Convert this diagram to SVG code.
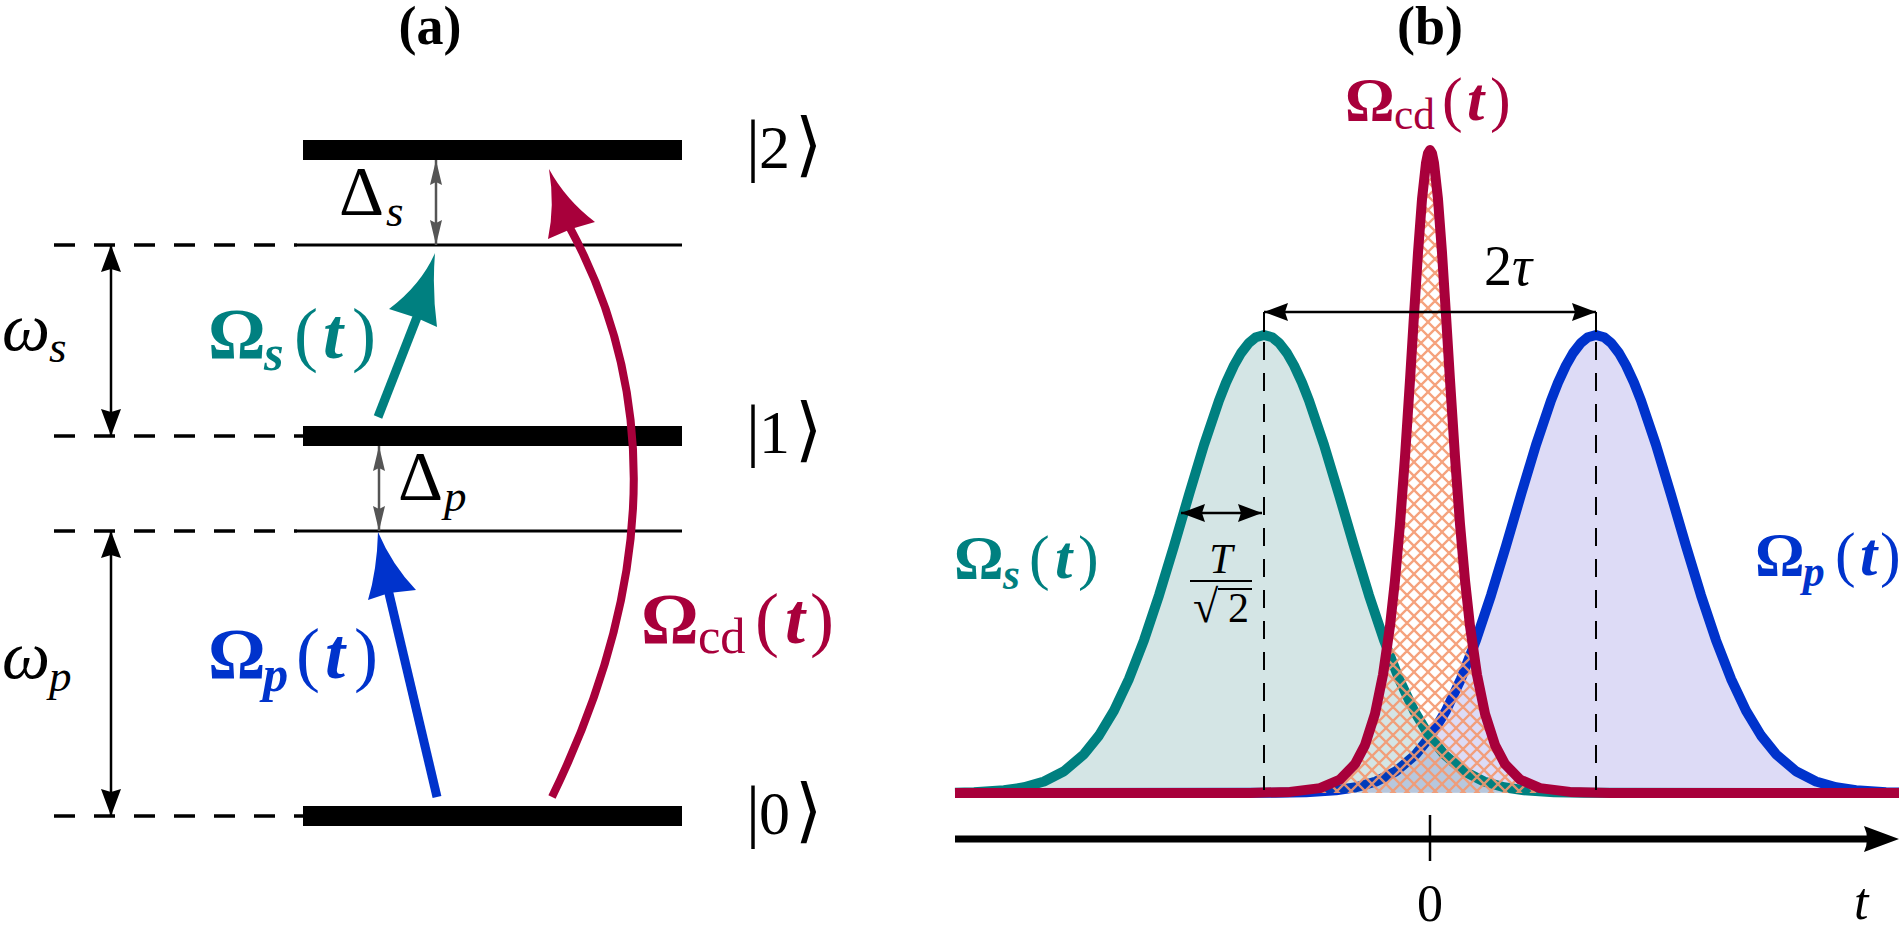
<svg xmlns="http://www.w3.org/2000/svg" width="1899" height="927" viewBox="0 0 1899 927">
<defs>
<style>
text{font-family:"Liberation Serif","DejaVu Serif",serif;fill:#000}
.lvl{fill:#000}
.thin{stroke:#000;stroke-width:3;fill:none}
.dash{stroke:#000;stroke-width:3.5;stroke-dasharray:21 19;fill:none}
.vdash{stroke:#000;stroke-width:2;stroke-dasharray:18 13;fill:none}
.dim{stroke:#000;stroke-width:2.5;fill:none}
.gdim{stroke:#555;stroke-width:2.5;fill:none}
.L{font-size:72px}
.R{font-size:62px}
.b{font-weight:bold}
.bi{font-weight:bold;font-style:italic}
.it{font-style:italic}
.sub{font-size:0.7em}
.ket{font-size:62px}
.bar{font-size:70px}
.teal{fill:#008080}
.blue{fill:#0033cc}
.red{fill:#a8003b}
.curve{fill:none;stroke-width:10;stroke-linejoin:round;stroke-linecap:butt}
</style>
<marker id="hb" markerUnits="userSpaceOnUse" viewBox="-28 -11 29 22" refX="0" refY="0" markerWidth="29" markerHeight="22" orient="auto-start-reverse"><path d="M0,0 L-27,-10 L-24,0 L-27,10 Z" fill="#000"/></marker>
<marker id="hg" markerUnits="userSpaceOnUse" viewBox="-26 -7 27 14" refX="0" refY="0" markerWidth="27" markerHeight="14" orient="auto-start-reverse"><path d="M0,0 L-25,-6 L-22,0 L-25,6 Z" fill="#555"/></marker>
<marker id="hs" markerUnits="userSpaceOnUse" viewBox="-26 -10 27 20" refX="0" refY="0" markerWidth="27" markerHeight="20" orient="auto-start-reverse"><path d="M0,0 L-24,-9 L-21,0 L-24,9 Z" fill="#000"/></marker>
<pattern id="hatch" patternUnits="userSpaceOnUse" width="14" height="14">
<path d="M-7,7 L7,21 M0,0 L14,14 M7,-7 L21,7 M-7,7 L7,-7 M0,14 L14,0 M7,21 L21,7" stroke="#f4986f" stroke-width="2.3" stroke-opacity="0.9"/>
</pattern>
</defs>
<rect width="1899" height="927" fill="#fff"/>

<text x="430" y="44" text-anchor="middle" class="b" font-size="54">(a)</text>
<text x="1430" y="44" text-anchor="middle" class="b" font-size="54">(b)</text>

<!-- Panel (a): levels -->
<g id="level2">
<rect class="lvl" x="303" y="140" width="379" height="20"/>
<text y="168"><tspan class="bar" x="746">|</tspan><tspan class="ket" x="759">2</tspan><tspan class="bar" x="795">⟩</tspan></text>
</g>
<g id="virtual-s">
<line class="dash" x1="54" y1="245" x2="297" y2="245"/>
<line class="thin" x1="297" y1="245" x2="682" y2="245"/>
</g>
<g id="level1">
<line class="dash" x1="54" y1="436" x2="303" y2="436"/>
<rect class="lvl" x="303" y="426" width="379" height="20"/>
<text y="453"><tspan class="bar" x="746">|</tspan><tspan class="ket" x="759">1</tspan><tspan class="bar" x="795">⟩</tspan></text>
</g>
<g id="virtual-p">
<line class="dash" x1="54" y1="531" x2="297" y2="531"/>
<line class="thin" x1="297" y1="531" x2="682" y2="531"/>
</g>
<g id="level0">
<line class="dash" x1="54" y1="816" x2="303" y2="816"/>
<rect class="lvl" x="303" y="806" width="379" height="20"/>
<text y="834"><tspan class="bar" x="746">|</tspan><tspan class="ket" x="759">0</tspan><tspan class="bar" x="795">⟩</tspan></text>
</g>

<!-- connectors -->
<g id="connectors">
<line class="dim" x1="111" y1="245" x2="111" y2="436" marker-start="url(#hb)" marker-end="url(#hb)"/>
<line class="dim" x1="111" y1="531" x2="111" y2="816" marker-start="url(#hb)" marker-end="url(#hb)"/>
<line class="gdim" x1="436" y1="160" x2="436" y2="245" marker-start="url(#hg)" marker-end="url(#hg)"/>
<line class="gdim" x1="379" y1="446" x2="379" y2="531" marker-start="url(#hg)" marker-end="url(#hg)"/>
<g id="arrow-s">
<line x1="378" y1="417" x2="419" y2="312" stroke="#008080" stroke-width="9"/>
<path d="M435,253 Q421,285 389,309 L417,318 L437,327 Q432,290 435,253 Z" fill="#008080"/>
</g>
<g id="arrow-p">
<line x1="437" y1="797" x2="387" y2="585" stroke="#0033cc" stroke-width="9"/>
<path d="M378,532 Q377,570 368,600 L389,593 L416,590 Q392,565 378,532 Z" fill="#0033cc"/>
</g>
<g id="arrow-cd">
<path d="M552,797 Q706,480 570,228" fill="none" stroke="#a8003b" stroke-width="8"/>
<path d="M549,169 Q555,205 548,239 L571,229 L595,222 Q566,200 549,169 Z" fill="#a8003b"/>
</g>
</g>

<g id="labels-a">
<text y="350"><tspan class="it" x="2" font-size="68">ω</tspan><tspan class="it" x="49" y="362" font-size="45">s</tspan></text>
<text y="678"><tspan class="it" x="2" font-size="68">ω</tspan><tspan class="it" x="49" y="691" font-size="45">p</tspan></text>
<text y="215"><tspan x="339" font-size="70">Δ</tspan><tspan class="it" x="386" y="226" font-size="45">s</tspan></text>
<text y="500"><tspan x="398" font-size="70">Δ</tspan><tspan class="it" x="444" y="511" font-size="45">p</tspan></text>
<text class="L teal" y="358"><tspan class="b" x="208">Ω</tspan><tspan class="bi sub" x="264" y="370">s</tspan><tspan x="294" y="358">(</tspan><tspan class="bi" x="323">t</tspan><tspan x="352">)</tspan></text>
<text class="L blue" y="678"><tspan class="b" x="208">Ω</tspan><tspan class="bi sub" x="263" y="691">p</tspan><tspan x="296" y="678">(</tspan><tspan class="bi" x="325">t</tspan><tspan x="354">)</tspan></text>
<text class="L red" y="643"><tspan class="b" x="641">Ω</tspan><tspan class="sub" x="698" y="653">cd</tspan><tspan x="755" y="643">(</tspan><tspan class="bi" x="785">t</tspan><tspan x="810">)</tspan></text>
</g>

<!-- Panel (b) -->
<g id="pulse-p">
<path d="M955,793 L1276,792.8 L1306,792.2 L1336,790.3 L1356,787.3 L1376,781.5 L1396,771.3 L1416,754.2 L1431,735.5 L1446,710.6 L1461,678.8 L1476,640.2 L1491,595.3 L1506,546 L1521,494.7 L1536,444.9 L1551,400.5 L1558,382.7 L1566,365.4 L1573,353.1 L1581,342.8 L1588,337.2 L1596,335 L1604,337.2 L1611,342.8 L1619,353.1 L1626,365.4 L1634,382.7 L1641,400.5 L1656,444.9 L1671,494.7 L1686,546 L1701,595.3 L1716,640.2 L1731,678.8 L1746,710.6 L1761,735.5 L1776,754.2 L1796,771.3 L1816,781.5 L1836,787.3 L1856,790.3 L1886,792.2 L1902,792.6 Z" fill="#2a1ec8" fill-opacity="0.16"/>
<path class="curve" stroke="#0033cc" d="M955,793 L1276,792.8 L1306,792.2 L1336,790.3 L1356,787.3 L1376,781.5 L1396,771.3 L1416,754.2 L1431,735.5 L1446,710.6 L1461,678.8 L1476,640.2 L1491,595.3 L1506,546 L1521,494.7 L1536,444.9 L1551,400.5 L1558,382.7 L1566,365.4 L1573,353.1 L1581,342.8 L1588,337.2 L1596,335 L1604,337.2 L1611,342.8 L1619,353.1 L1626,365.4 L1634,382.7 L1641,400.5 L1656,444.9 L1671,494.7 L1686,546 L1701,595.3 L1716,640.2 L1731,678.8 L1746,710.6 L1761,735.5 L1776,754.2 L1796,771.3 L1816,781.5 L1836,787.3 L1856,790.3 L1886,792.2 L1902,792.6"/>
</g>
<g id="pulse-s">
<path d="M955,792.7 L974,792.2 L1004,790.3 L1024,787.3 L1044,781.5 L1064,771.3 L1084,754.2 L1099,735.5 L1114,710.6 L1129,678.8 L1144,640.2 L1159,595.3 L1174,546 L1189,494.7 L1204,444.9 L1219,400.5 L1226,382.7 L1234,365.4 L1241,353.1 L1249,342.8 L1256,337.2 L1264,335 L1272,337.2 L1279,342.8 L1287,353.1 L1294,365.4 L1302,382.7 L1309,400.5 L1324,444.9 L1339,494.7 L1354,546 L1369,595.3 L1384,640.2 L1399,678.8 L1414,710.6 L1429,735.5 L1444,754.2 L1464,771.3 L1484,781.5 L1504,787.3 L1524,790.3 L1554,792.2 L1584,792.8 L1902,793 Z" fill="#006464" fill-opacity="0.17"/>
<path class="curve" stroke="#008080" d="M955,792.7 L974,792.2 L1004,790.3 L1024,787.3 L1044,781.5 L1064,771.3 L1084,754.2 L1099,735.5 L1114,710.6 L1129,678.8 L1144,640.2 L1159,595.3 L1174,546 L1189,494.7 L1204,444.9 L1219,400.5 L1226,382.7 L1234,365.4 L1241,353.1 L1249,342.8 L1256,337.2 L1264,335 L1272,337.2 L1279,342.8 L1287,353.1 L1294,365.4 L1302,382.7 L1309,400.5 L1324,444.9 L1339,494.7 L1354,546 L1369,595.3 L1384,640.2 L1399,678.8 L1414,710.6 L1429,735.5 L1444,754.2 L1464,771.3 L1484,781.5 L1504,787.3 L1524,790.3 L1554,792.2 L1584,792.8 L1902,793"/>
</g>
<g id="pulse-cd">
<path d="M955,793 L1250,792.9 L1290,791.9 L1320,788.1 L1340,779.5 L1355,764.1 L1365,745.1 L1375,713.8 L1383,674.8 L1390,626 L1395,580.3 L1400,524.1 L1405,456.8 L1410,380.1 L1414,315.3 L1418,252.7 L1422,199.3 L1426,163 L1428,153.3 L1430,150 L1432,153.3 L1434,163 L1438,199.3 L1442,252.7 L1446,315.3 L1450,380.1 L1455,456.8 L1460,524.1 L1465,580.3 L1470,626 L1477,674.8 L1485,713.8 L1495,745.1 L1505,764.1 L1520,779.5 L1540,788.1 L1570,791.9 L1610,792.9 L1902,793 Z" fill="url(#hatch)"/>
<path class="curve" stroke="#a8003b" d="M955,793 L1250,792.9 L1290,791.9 L1320,788.1 L1340,779.5 L1355,764.1 L1365,745.1 L1375,713.8 L1383,674.8 L1390,626 L1395,580.3 L1400,524.1 L1405,456.8 L1410,380.1 L1414,315.3 L1418,252.7 L1422,199.3 L1426,163 L1428,153.3 L1430,150 L1432,153.3 L1434,163 L1438,199.3 L1442,252.7 L1446,315.3 L1450,380.1 L1455,456.8 L1460,524.1 L1465,580.3 L1470,626 L1477,674.8 L1485,713.8 L1495,745.1 L1505,764.1 L1520,779.5 L1540,788.1 L1570,791.9 L1610,792.9 L1902,793"/>
</g>

<g id="annotations-b">
<line class="vdash" x1="1264" y1="342" x2="1264" y2="790"/>
<line class="vdash" x1="1596" y1="342" x2="1596" y2="790"/>
<line stroke="#000" stroke-width="2" x1="1264" y1="312" x2="1264" y2="332"/>
<line stroke="#000" stroke-width="2" x1="1596" y1="312" x2="1596" y2="332"/>
<line class="dim" x1="1264" y1="312" x2="1596" y2="312" marker-start="url(#hs)" marker-end="url(#hs)"/>
<line class="dim" x1="1181" y1="513" x2="1262" y2="513" marker-start="url(#hs)" marker-end="url(#hs)"/>
<text y="285"><tspan x="1484" font-size="56">2</tspan><tspan class="it" x="1512" font-size="56">τ</tspan></text>
<text x="1221" y="573" class="it" font-size="42" text-anchor="middle">T</text>
<line stroke="#000" stroke-width="2" x1="1190" y1="581" x2="1252" y2="581"/>
<text y="622"><tspan x="1193" font-size="46">√</tspan><tspan x="1228" font-size="42">2</tspan></text>
<line stroke="#000" stroke-width="2" x1="1218" y1="589" x2="1252" y2="589"/>
</g>

<g id="axis">
<line stroke="#000" stroke-width="7" x1="955" y1="839" x2="1870" y2="839"/>
<path d="M1899,839 L1864,826 Q1870,839 1864,852 Z" fill="#000"/>
<line stroke="#000" stroke-width="2.5" x1="1430" y1="815" x2="1430" y2="861"/>
<text x="1430" y="921" text-anchor="middle" font-size="52">0</text>
<text x="1854" y="919" class="it" font-size="52">t</text>
</g>

<g id="labels-b">
<text class="R red" y="120"><tspan class="b" x="1345">Ω</tspan><tspan class="sub" x="1394" y="129">cd</tspan><tspan x="1442" y="120">(</tspan><tspan class="bi" x="1467">t</tspan><tspan x="1490">)</tspan></text>
<text class="R teal" y="578"><tspan class="b" x="954">Ω</tspan><tspan class="bi sub" x="1003" y="589">s</tspan><tspan x="1029" y="578">(</tspan><tspan class="bi" x="1055">t</tspan><tspan x="1078">)</tspan></text>
<text class="R blue" y="575"><tspan class="b" x="1755">Ω</tspan><tspan class="bi sub" x="1803" y="586">p</tspan><tspan x="1835" y="575">(</tspan><tspan class="bi" x="1860">t</tspan><tspan x="1880">)</tspan></text>
</g>
</svg>
